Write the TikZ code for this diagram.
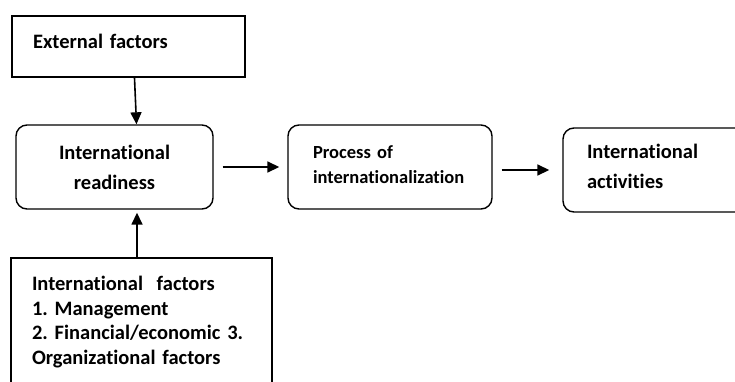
\documentclass[tikz,border=0pt]{standalone}
\usepackage{fontspec}
\setmainfont{Carlito}[Ligatures=NoCommon]
\usetikzlibrary{arrows.meta}
\frenchspacing
\begin{document}
\begin{tikzpicture}[x=1pt,y=-1pt,
	>={Triangle[length=12pt,width=11pt]},
	sqbox/.style={draw,line width=1.8pt,inner ysep=0pt,align=left,
		font=\fontsize{20.5}{30}\selectfont\bfseries},
	rbox/.style={draw,line width=1.4pt,rounded corners=11pt,inner ysep=0pt,
		font=\fontsize{20.5}{30}\selectfont\bfseries},
	arr/.style={->,line width=1.6pt}]
	\useasboundingbox (0,0) rectangle (735,381);
	\clip (0,0) rectangle (735,381);

	\node[sqbox,text width=191pt,inner xsep=21pt,minimum height=61pt,
		text height=15pt,text depth=11pt] (ext) at (128.5,46.5) {External factors};

	\node[rbox,minimum width=197pt,minimum height=84pt,align=center] (ready)
		at (114.5,167) {International\\readiness};

	\node[rbox,text width=154pt,inner xsep=25pt,minimum height=84pt,align=left,
		text height=15pt,text depth=33pt,font=\fontsize{18.5}{25}\selectfont\bfseries] (proc)
		at (390,167) {Process of\\internationalization};

	\node[rbox,text width=152pt,inner xsep=24pt,minimum height=84pt,align=left,
		text height=15pt,text depth=38pt] (act) at (663,170) {International\\activities};

	\node[sqbox,anchor=north,text width=219pt,inner xsep=21pt,inner ysep=18pt,
		font=\fontsize{20.5}{24.8}\selectfont\bfseries] (intf)
		at (141.5,257) {International\ \ factors\\1. Management\\
		2. Financial/economic 3.\\Organizational factors};

	\draw[arr] ([xshift=6pt]ext.south) -- ([xshift=22pt]ready.north);
	\draw[arr,shorten >=3pt] ([xshift=-4.5pt]intf.north) -- ([xshift=22.5pt]ready.south);
	\draw[arr,shorten <=9pt,shorten >=8pt] (ready) -- (proc);
	\draw[arr,shorten >=13pt] ([xshift=9pt]proc.east |- act.west) -- (act.west);
\end{tikzpicture}
\end{document}
